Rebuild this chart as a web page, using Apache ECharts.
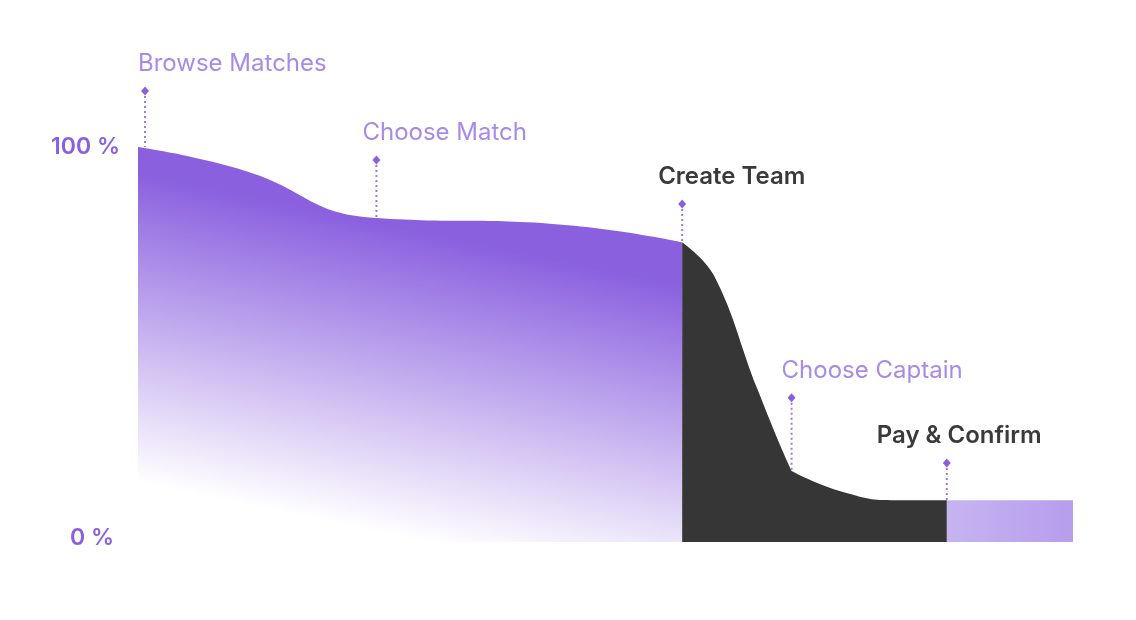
<!DOCTYPE html>
<html>
<head>
<meta charset="utf-8">
<script src="https://cdn.jsdelivr.net/npm/echarts@6/dist/echarts.min.js"></script>
<style>
  html, body { margin: 0; padding: 0; background: #fff; }
  #chart { width: 1136px; height: 620px; }
</style>
</head>
<body>
<div id="chart"></div>
<script>
// x = progress along the funnel (0..100), y = share of users (%)
const browseCurve = [
  [0, 100], [11, 94.3], [25.5, 82.0], [44, 80.6], [58.2, 75.9]
];
const teamDrop = [
  [58.2, 75.9], [61.6, 67.5], [66.2, 39], [69.9, 18.0], [70.5, 16.6]
];
const captainTail = [
  [69.9, 18.0], [75.5, 12.6], [81, 10.6], [86.5, 10.6]
];
const confirmBlock = [[86.5, 10.6], [100, 10.6]];

const stepNames = ["Browse Matches", "Choose Match", "Create Team", "Choose Captain", "Pay & Confirm"];
const stepX = [0.75, 25.5, 58.2, 69.9, 86.5];
const stepPinTop = [114.2, 96.7, 85.6, 36.5, 20.0];
const stepPinBottom = [100, 82.0, 75.9, 18.0, 10.6];
const stepStrong = [false, false, true, false, true];

const yTicks = [0, 100];

// label placement relative to the pin head (px)
const labelDx = [-7, -14, -24, -10, -70];
const labelDy = -27;

const PURPLE = "#8a60df";
const SOFT = "#a88ae8";
const DARK = "#363636";

const pins = stepX.map((x, i) => [x, stepPinTop[i], stepPinBottom[i]]);

const chart = echarts.init(document.getElementById("chart"));
chart.setOption({
  animation: false,
  grid: { left: 138, right: 63, bottom: 78, top: 48.25 },
  xAxis: { type: "value", min: 0, max: 100, show: false },
  yAxis: {
    type: "value",
    min: 0,
    max: 125,
    interval: 25,
    axisLine: { show: false },
    axisTick: { show: false },
    splitLine: { show: false },
    axisLabel: {
      margin: 18,
      fontFamily: "Inter",
      fontSize: 23,
      fontWeight: 600,
      color: PURPLE,
      formatter: v => {
        if (yTicks.indexOf(v) < 0) return "";
        return v === 0 ? "{lo|" + v + " %}" : "{hi|" + v + " %}";
      },
      rich: {
        hi: { fontFamily: "Inter", fontSize: 23, fontWeight: 600, color: PURPLE },
        lo: { fontFamily: "Inter", fontSize: 23, fontWeight: 600, color: PURPLE, padding: [0, 6, 8, 0] }
      }
    }
  },
  series: [
    {
      type: "line",
      data: browseCurve,
      smooth: 0.5,
      symbol: "none",
      lineStyle: { width: 0 },
      areaStyle: {
        opacity: 1,
        color: new echarts.graphic.LinearGradient(0.35, 1, 0.5, 0, [
          { offset: 0, color: "rgba(138,96,223,0)" },
          { offset: 0.05, color: "rgba(138,96,223,0)" },
          { offset: 0.8, color: "rgba(138,96,223,1)" },
          { offset: 1, color: "rgba(138,96,223,1)" }
        ])
      },
      z: 2
    },
    {
      type: "line",
      data: teamDrop,
      smooth: 0.4,
      symbol: "none",
      lineStyle: { width: 0 },
      areaStyle: { color: DARK, opacity: 1 },
      z: 2
    },
    {
      type: "line",
      data: captainTail,
      smooth: 0.5,
      symbol: "none",
      lineStyle: { width: 0 },
      areaStyle: { color: DARK, opacity: 1 },
      z: 3
    },
    {
      type: "line",
      data: confirmBlock,
      symbol: "none",
      lineStyle: { width: 0 },
      areaStyle: {
        opacity: 1,
        color: new echarts.graphic.LinearGradient(0, 0, 1, 0, [
          { offset: 0, color: "#c6b4f1" },
          { offset: 1, color: "#b79ded" }
        ])
      },
      z: 2
    },
    {
      type: "custom",
      data: pins,
      z: 5,
      renderItem: function (params, api) {
        const i = params.dataIndex;
        const head = api.coord([api.value(0), api.value(1)]);
        const foot = api.coord([api.value(0), api.value(2)]);
        const strong = stepStrong[i];
        return {
          type: "group",
          children: [
            {
              type: "line",
              shape: { x1: head[0], y1: head[1], x2: foot[0], y2: foot[1] },
              style: { stroke: "#9b78e6", lineWidth: 2, lineDash: [2, 3] }
            },
            {
              type: "polygon",
              shape: {
                points: [
                  [head[0], head[1] - 4.5], [head[0] + 4, head[1]],
                  [head[0], head[1] + 4.5], [head[0] - 4, head[1]]
                ]
              },
              style: { fill: PURPLE }
            },
            {
              type: "text",
              x: head[0] + labelDx[i],
              y: head[1] + labelDy,
              style: {
                text: stepNames[i],
                fill: strong ? "#3a3a3a" : SOFT,
                font: (strong ? "600 " : "400 ") + "24px Inter",
                textAlign: "left",
                textVerticalAlign: "middle"
              }
            }
          ]
        };
      }
    }
  ]
});
</script>
</body>
</html>
